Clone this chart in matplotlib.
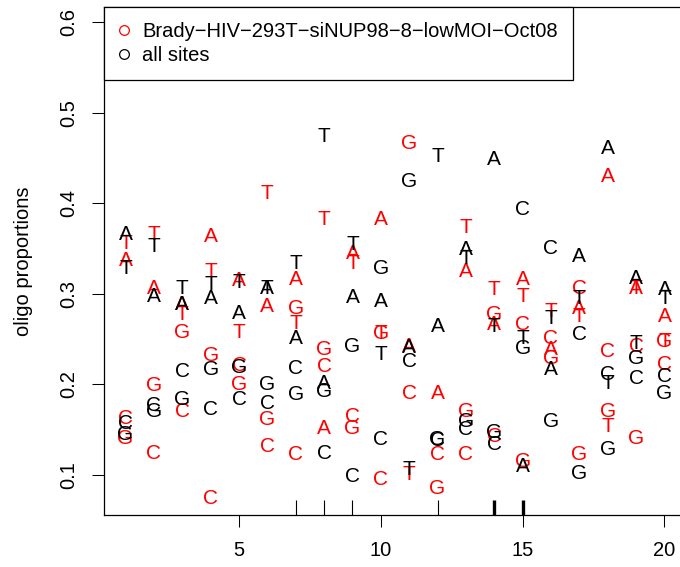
"""
oligo proportions per position, sample vs all sites
"""
import numpy as np
import matplotlib as mpl
mpl.use('Agg')
import matplotlib.pyplot as plt
from matplotlib.lines import Line2D
import matplotlib.transforms as mtransforms

positions = np.arange(1, 21)
bases = ['A', 'C', 'G', 'T']

sample_name = 'Brady\u2212HIV\u2212293T\u2212siNUP98\u22128\u2212lowMOI\u2212Oct08'

# proportions of A, C, G, T at each position
sample_A = [0.338, 0.308, 0.290, 0.365, 0.316, 0.288, 0.317, 0.153, 0.346, 0.384,
            0.244, 0.192, 0.326, 0.268, 0.317, 0.240, 0.285, 0.431, 0.308, 0.277]
sample_C = [0.164, 0.125, 0.172, 0.076, 0.223, 0.133, 0.124, 0.221, 0.166, 0.097,
            0.192, 0.124, 0.124, 0.144, 0.268, 0.252, 0.308, 0.238, 0.244, 0.224]
sample_G = [0.142, 0.200, 0.259, 0.233, 0.202, 0.163, 0.285, 0.240, 0.153, 0.258,
            0.468, 0.087, 0.172, 0.279, 0.117, 0.230, 0.124, 0.172, 0.142, 0.249]
sample_T = [0.357, 0.367, 0.279, 0.326, 0.259, 0.412, 0.269, 0.384, 0.335, 0.258,
            0.102, 0.597, 0.375, 0.306, 0.299, 0.282, 0.277, 0.155, 0.308, 0.249]

all_A = [0.367, 0.299, 0.290, 0.297, 0.280, 0.308, 0.252, 0.203, 0.298, 0.293,
         0.242, 0.266, 0.351, 0.450, 0.111, 0.218, 0.343, 0.462, 0.319, 0.306]
all_C = [0.159, 0.178, 0.216, 0.174, 0.185, 0.181, 0.219, 0.125, 0.100, 0.141,
         0.227, 0.140, 0.152, 0.135, 0.395, 0.352, 0.257, 0.213, 0.208, 0.210]
all_G = [0.146, 0.172, 0.185, 0.218, 0.220, 0.202, 0.191, 0.194, 0.244, 0.330,
         0.426, 0.141, 0.161, 0.148, 0.241, 0.161, 0.103, 0.130, 0.230, 0.192]
all_T = [0.330, 0.354, 0.308, 0.312, 0.314, 0.308, 0.335, 0.475, 0.356, 0.235,
         0.108, 0.453, 0.341, 0.266, 0.252, 0.274, 0.297, 0.203, 0.247, 0.297]

# positions flagged on the x axis (repeats drawn thicker)
rug_x = [7, 8, 9, 12, 14, 14, 14, 15, 15, 15]

xticks = [5, 10, 15, 20]
yticks = [0.1, 0.2, 0.3, 0.4, 0.5, 0.6]

plt.rcParams['font.family'] = ['Liberation Sans', 'DejaVu Sans']

W, H = 680, 567
fig = plt.figure(figsize=(W / 100, H / 100), dpi=100)
ax = fig.add_axes([104 / W, 52 / H, 582 / W, 508 / H])
ax.set_xlim(0.24, 20.76)
ax.set_ylim(0.0558, 0.6166)

# nudge letters so the glyph middle sits on the value
off = mtransforms.offset_copy(ax.transData, fig=fig, x=0, y=-1.5, units='dots')

def draw_letters(series, color):
    for base, vals in zip(bases, series):
        for x, v in zip(positions, vals):
            ax.text(x, v, base, color=color, fontsize=15, ha='center', va='center',
                    transform=off)

draw_letters([sample_A, sample_C, sample_G, sample_T], 'red')
draw_letters([all_A, all_C, all_G, all_T], 'black')

# rug
ux, cnt = np.unique(rug_x, return_counts=True)
for x, c in zip(ux, cnt):
    ax.plot([x, x], [0, 0.03], color='black', lw=0.8 * c, solid_capstyle='butt',
            transform=ax.get_xaxis_transform(), clip_on=False)

ax.set_xticks(xticks)
ax.set_xticklabels([str(t) for t in xticks])
ax.set_yticks(yticks)
ax.set_yticklabels(['%.1f' % t for t in yticks], rotation=90, va='center')
ax.tick_params(direction='out', length=8.5, width=0.75, labelsize=14.5, pad=10)
ax.set_ylabel('oligo proportions', fontsize=14.5, labelpad=19)

for s in ax.spines.values():
    s.set_linewidth(0.9)

handles = [Line2D([], [], ls='none', marker='o', mfc='none', mec='red', ms=7, mew=0.9),
           Line2D([], [], ls='none', marker='o', mfc='none', mec='black', ms=7, mew=0.9)]
leg = ax.legend(handles, [sample_name, 'all sites'], loc='upper left', fontsize=14.5,
                borderaxespad=0, fancybox=False, framealpha=1, edgecolor='black',
                handlelength=0.5, handletextpad=0.65, labelspacing=0.25, borderpad=0.75)
leg.get_frame().set_linewidth(0.9)

fig.savefig('out.png', dpi=100)
